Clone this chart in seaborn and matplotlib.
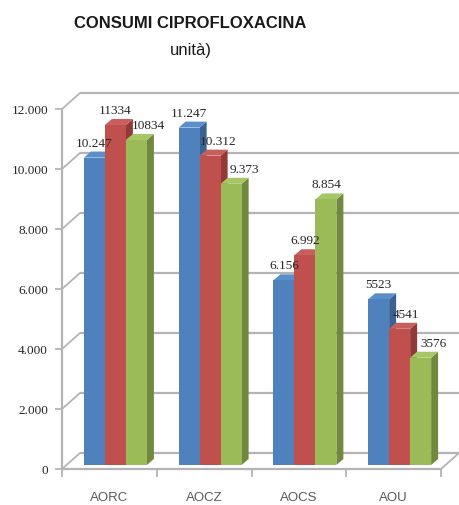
import numpy as np
import pandas as pd
import matplotlib
matplotlib.use("Agg")
import matplotlib.pyplot as plt
from matplotlib.patches import Polygon
from matplotlib.transforms import ScaledTranslation
import seaborn as sns

# ---- data ----
categories = ["AORC", "AOCZ", "AOCS", "AOU"]
series_names = ["Serie 1", "Serie 2", "Serie 3"]
serie_1 = [10247, 11247, 6156, 5523]
serie_2 = [11334, 10312, 6992, 4541]
serie_3 = [10834, 9373, 8854, 3576]
value_labels = [
    ["10.247", "11.247", "6.156", "5523"],
    ["11334", "10.312", "6.992", "4541"],
    ["10834", "9.373", "8.854", "3576"],
]
y_ticks = [0, 2000, 4000, 6000, 8000, 10000, 12000]
y_tick_labels = ["0", "2.000", "4.000", "6.000", "8.000", "10.000", "12.000"]

front_colors = ["#4F81BD", "#C0504D", "#9BBB59"]
side_colors = ["#3A6292", "#913B39", "#71893F"]
top_colors = ["#5B8FCC", "#C95F5C", "#A7C767"]

df = pd.DataFrame({
    "categoria": categories * 3,
    "serie": [s for s in series_names for _ in categories],
    "valore": serie_1 + serie_2 + serie_3,
})

sns.set_theme(style="white")
plt.rcParams["font.family"] = ["Liberation Sans", "DejaVu Sans"]

DPI = 100
fig = plt.figure(figsize=(4.59, 5.05), dpi=DPI)
ax = fig.add_axes([62 / 459, 1 - 469 / 505, (441 - 62) / 459, (469 - 109) / 505])

sns.barplot(data=df, x="categoria", y="valore", hue="serie",
            palette=front_colors, width=0.665, gap=0, saturation=1,
            errorbar=None, legend=False, ax=ax, linewidth=0)

ax.set_xlim(-0.5, 3.5)
ax.set_ylim(0, 12000)

# pixel -> data conversion
ax_w_px = (441 - 62)
ax_h_px = (469 - 109)
px_x = 4.0 / ax_w_px
px_y = 12000.0 / ax_h_px

def shift(dx_px, dy_px):
    return ax.transData + ScaledTranslation(dx_px / DPI, dy_px / DPI, fig.dpi_scale_trans)

bar_tr = shift(6, 4)          # bars sit half-way into the depth of the box
back_tr = shift(18, 16)       # back wall
depth_x, depth_y = 7 * px_x, 6 * px_y

# ---- 3D box: back wall gridlines, left wall, floor ----
grid_col = "#B4B4B4"
for t in y_ticks:
    ax.plot([-0.5, 3.5], [t, t], color=grid_col, lw=1.6, transform=back_tr,
            clip_on=False, zorder=0.5, solid_capstyle="butt")
    # left wall diagonal
    ax.plot([-0.5, -0.5 + 18 * px_x], [t, t + 16 * px_y], color=grid_col, lw=1.3,
            clip_on=False, zorder=0.5)
# floor right diagonal
ax.plot([3.5, 3.5 + 18 * px_x], [0, 16 * px_y], color=grid_col, lw=1.3,
        clip_on=False, zorder=0.5)

# ---- bars with side and top faces ----
n_cat = len(categories)
bars = list(ax.patches)
for i, p in enumerate(bars):
    s = i // n_cat
    x0 = p.get_x()
    w = p.get_width()
    h = p.get_height()
    z = 2 + s
    p.set_transform(bar_tr)
    p.set_zorder(z + 0.02)
    side = Polygon([(x0 + w, 0), (x0 + w + depth_x, depth_y),
                    (x0 + w + depth_x, h + depth_y), (x0 + w, h)],
                   closed=True, facecolor=side_colors[s], edgecolor="none",
                   transform=bar_tr, zorder=z, clip_on=False)
    top = Polygon([(x0, h), (x0 + w, h), (x0 + w + depth_x, h + depth_y),
                   (x0 + depth_x, h + depth_y)],
                  closed=True, facecolor=top_colors[s], edgecolor="none",
                  transform=bar_tr, zorder=z + 0.01, clip_on=False)
    ax.add_patch(side)
    ax.add_patch(top)

# ---- value labels ----
label_nudge = [
    [0, 0, 0, 0],
    [0, 8, 0, 6],
    [12, 13, 0, 13],
]
for i, p in enumerate(bars):
    s = i // n_cat
    c = i % n_cat
    xc = p.get_x() + p.get_width() / 2
    h = p.get_height()
    ax.annotate(value_labels[s][c], xy=(xc, h), xycoords=bar_tr,
                xytext=(label_nudge[s][c] * 72 / DPI, 14 * 72 / DPI),
                textcoords="offset points", ha="center", va="center",
                fontsize=9.5, family=["Liberation Serif", "DejaVu Serif"],
                color="#262626", zorder=10, annotation_clip=False)

# ---- axes styling ----
for side_name in ["top", "right"]:
    ax.spines[side_name].set_visible(False)
for side_name in ["left", "bottom"]:
    ax.spines[side_name].set_color(grid_col)
    ax.spines[side_name].set_linewidth(1.6)
    ax.spines[side_name].set_zorder(0.6)

ax.set_yticks(y_ticks)
ax.set_yticklabels(y_tick_labels, family=["Liberation Serif", "DejaVu Serif"],
                   fontsize=9.5, color="#262626")
ax.tick_params(axis="y", length=5, width=1.3, color=grid_col, pad=5, left=True)

ax.set_xticks(range(n_cat))
ax.set_xticklabels(categories, fontsize=9.5, color="#595959")
ax.set_xticks(np.arange(-0.5, n_cat, 1.0), minor=True)
ax.tick_params(axis="x", which="major", length=0, pad=16.5)
ax.tick_params(axis="x", which="minor", length=6, width=1.3, color=grid_col, bottom=True)
ax.set_xlabel("")
ax.set_ylabel("")
ax.grid(False)

# ---- title ----
fig.text(190 / 459, 1 - 23 / 505, "CONSUMI CIPROFLOXACINA", ha="center", va="center",
         fontsize=12, fontweight="bold", color="#1A1A1A")
fig.text(191 / 459, 1 - 50 / 505, "unità)", ha="center", va="center",
         fontsize=12, color="#1A1A1A")

fig.savefig("out.png", dpi=DPI, facecolor="white")
